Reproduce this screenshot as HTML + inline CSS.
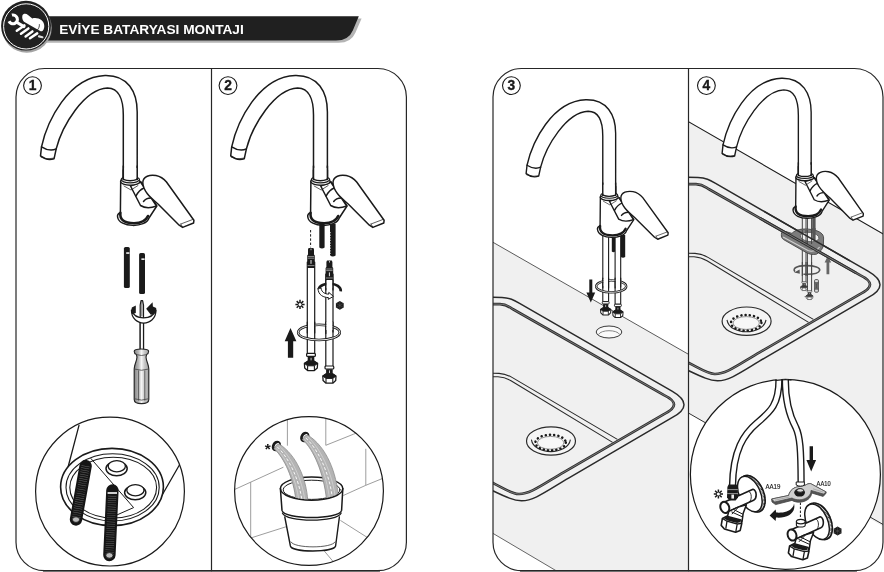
<!DOCTYPE html>
<html lang="tr">
<head>
<meta charset="utf-8">
<title>Eviye Bataryası Montajı</title>
<style>
html,body{margin:0;padding:0;background:#fff;}
body{width:884px;height:572px;overflow:hidden;font-family:"Liberation Sans",sans-serif;}
svg{display:block;filter:grayscale(1);}
.k{fill:none;stroke:#1a1a1a;stroke-width:1.2;stroke-linecap:round;stroke-linejoin:round;}
.kw{fill:#fff;stroke:#1a1a1a;stroke-width:1.2;stroke-linecap:round;stroke-linejoin:round;}
.f{fill:none;stroke:#1a1a1a;stroke-width:1.5;stroke-linecap:round;stroke-linejoin:round;}
.fw{fill:#fff;stroke:#1a1a1a;stroke-width:1.5;stroke-linecap:round;stroke-linejoin:round;}
.kt{fill:none;stroke:#1a1a1a;stroke-width:0.7;stroke-linecap:round;stroke-linejoin:round;}
.g{fill:none;stroke:#8a8a8a;stroke-width:0.8;stroke-linecap:round;stroke-linejoin:round;}
.num{font-family:"Liberation Sans",sans-serif;font-weight:bold;font-size:13.8px;fill:#1a1a1a;stroke:#1a1a1a;stroke-width:0.35px;text-anchor:middle;}
</style>
</head>
<body>
<svg width="884" height="572" viewBox="0 0 884 572">
<defs>
  <!-- faucet in panel-1 absolute coordinates -->
  <g id="faucet">
    <!-- spout -->
    <path class="fw" d="M41.5 146.8 C47 122 68 77 105 75.5 C128 75 137.2 92 137.2 112 V179 H123.3 V115 C123.3 100 119 88 107.5 88 C84 89 62 126 56.2 148.9 L54.1 158.7 Q47 161 40.5 155.9 Z"/>
    <path class="f" d="M41.5 146.8 Q49.6 152 56.2 148.9"/>
    <path class="kt" d="M41 157.2 Q47 160.2 53.6 158.2"/>
    <!-- body -->
    <path class="fw" d="M120.7 181 L120.4 212.8 Q117 214 117.6 217 C119 228 146 228 149 218 L156.8 206 L141 182 Z"/>
    <path class="f" d="M120.4 212.8 Q119 223 134 223.2 Q145 223 148 216" style="stroke-width:2.6"/>
    <!-- pivot cylinder -->
    <path class="fw" d="M130.5 186 L140.5 205.5 Q147 209.5 156.5 206 L146 190 L140.5 182 Z"/>
    <path class="f" d="M143.5 201.5 Q147 196.5 155 198.5 M136 196 Q139 190 144 188"/>
    <!-- collar -->
    <ellipse cx="130.3" cy="181.6" rx="9.7" ry="3.6" class="fw" style="stroke-width:1.5"/>
    <ellipse cx="130.3" cy="179.6" rx="9.2" ry="3.2" class="fw" style="stroke-width:1.2"/>
    <path class="fw" d="M123.3 170 V179.4 Q130 182 137.2 179.4 V170" />
    <path d="M123.3 168 H137.2 V178 H123.3 Z" fill="#fff" stroke="none"/>
    <path class="f" d="M123.3 166 V179.4 M137.2 166 V179.4"/>
    <path class="kt" d="M124 186 L131 190 L138 185.5"/>
    <!-- handle -->
    <path class="fw" d="M142.8 182.5 C143 176 150 174.5 156 175.5 C161 176.5 164 179 166.5 182 L193.9 220.3 L193.6 223 L182.6 227.4 L179.2 225.2 L158.5 204.5 C150 197 143 191 142.8 182.5 Z"/>
    <path class="kt" d="M180.8 224 L192.4 219.6 M180.8 224 L182.6 227.2"/>
  </g>
  <g id="hoseEnd">
    <rect x="-4.4" y="0" width="8.8" height="3" rx="1" fill="#fff" stroke="#1a1a1a" stroke-width="1.2"/>
    <rect x="-3.3" y="3.2" width="6.6" height="6.4" fill="#1a1a1a"/>
    <rect x="-0.4" y="4.4" width="0.9" height="3.6" fill="#ddd"/>
    <path d="M-6.6 10 L-3.2 7.8 H3.2 L6.6 10 L6.3 14.6 L3.4 17.2 H-3.4 L-6.3 14.6 Z" fill="#fff" stroke="#1a1a1a" stroke-width="1.3" stroke-linejoin="round"/>
    <path d="M-6.6 10 L-3.2 7.8 H3.2 L6.6 10 L3.4 12.4 H-3.4 Z" fill="#1a1a1a" stroke="#1a1a1a" stroke-width="1" stroke-linejoin="round"/>
    <path d="M-3.4 12.4 V17 M3.4 12.4 V17" stroke="#1a1a1a" stroke-width="1.1"/>
  </g>
  <g id="hoseTop">
    <!-- local origin: hose centre, y=0 at tip top -->
    <path d="M-2.4 0 H2.4 L3 1.5 V6.5 L3.8 7.5 V20 H-3.8 V7.5 L-3 6.5 V1.5 Z" fill="#1a1a1a"/>
    <path d="M-3.2 8.6 H3.2 M-3.2 10.2 H3.2 M-3.4 17.6 H3.4" stroke="#bbb" stroke-width="0.7"/>
    <rect x="-0.5" y="12" width="1" height="3.8" fill="#e8e8e8"/>
    <rect x="-0.4" y="0.6" width="0.8" height="1.6" fill="#ddd"/>
  </g>
  <g id="cold">
    <path d="M0 -4.6 V4.6 M-4.6 0 H4.6 M-3.3 -3.3 L3.3 3.3 M-3.3 3.3 L3.3 -3.3" stroke="#1a1a1a" stroke-width="1.5" fill="none"/>
    <circle r="1.5" fill="#fff"/>
  </g>
  <g id="hot">
    <path d="M0 -4.4 L3.9 -2.2 V2.2 L0 4.4 L-3.9 2.2 V-2.2 Z" fill="#1a1a1a"/>
    <path d="M0 -4.4 V4.4 M-3.9 -2.2 L3.9 2.2 M-3.9 2.2 L3.9 -2.2" stroke="#666" stroke-width="0.4"/>
  </g>
  <g id="valve">
    <!-- local origin = flange centre -->
    <g transform="rotate(-24)">
      <ellipse cx="1.6" cy="0.6" rx="11.4" ry="19.4" fill="#fff" stroke="#1a1a1a" stroke-width="1.6"/>
      <ellipse cx="1.6" cy="0.6" rx="10.6" ry="18.6" fill="none" stroke="#1a1a1a" stroke-width="2.6" stroke-dasharray="0.55 0.85"/>
      <ellipse cx="-0.6" cy="0" rx="10.6" ry="18.8" fill="#fff" stroke="#1a1a1a" stroke-width="1.5"/>
    </g>
    <!-- horizontal body -->
    <path d="M2.6 -4.6 C6.6 -3.2 6.8 4.6 3.2 6.4 L-23.6 18.6 C-29 19.6 -30.6 10.6 -26.4 8.4 Z" fill="#fff" stroke="#1a1a1a" stroke-width="1.6" stroke-linejoin="round"/>
    <path d="M-2 -2.6 C1.6 -1.4 1.8 6.4 -1.4 8.4" fill="none" stroke="#1a1a1a" stroke-width="0.9"/>
    <!-- lower outlet -->
    <path d="M-21.6 17.6 L-23.4 24.4 L-8.4 28 L-7.2 19.4 L-4 11 L-13 13.6 Z" fill="#fff" stroke="#1a1a1a" stroke-width="1.5" stroke-linejoin="round"/>
    <path d="M-17 15.6 L-7.6 20.4 M-19 18 L-8 23 M-12 13.4 L-18.6 20.4" fill="none" stroke="#1a1a1a" stroke-width="1"/>
    <!-- end cap -->
    <ellipse cx="-25.6" cy="13.6" rx="4.3" ry="5.7" transform="rotate(-20 -25.6 13.6)" fill="#fff" stroke="#1a1a1a" stroke-width="2"/>
    <!-- nut -->
    <path d="M-28 24.6 L-23.6 22.4 L-9.6 26.2 L-8.6 29.6 L-10.2 36.6 L-14.8 38.4 L-26 35.2 L-29.2 31.6 Z" fill="#fff" stroke="#1a1a1a" stroke-width="1.6" stroke-linejoin="round"/>
    <path d="M-28 24.6 L-23.4 27.4 L-13.2 30.2 L-8.6 29.6 M-23.4 27.4 L-24.6 34.8 M-13.2 30.2 L-14.6 38" fill="none" stroke="#1a1a1a" stroke-width="1.3"/>
    <path d="M-26.6 24.4 L-23.6 22.6 L-10.4 26.2 L-10 28.4 L-13.4 29.2 L-23 26.6 Z" fill="#1a1a1a"/>
  </g>
  <g id="sink" fill="none" stroke-linejoin="round">
    <path d="M680 177.1 L698 177.5 C706 177.8 710 180.2 715.6 183.4 L868 271.2 Q892 285 868 297.7 L765 357.9 C743 370.7 730 381 717.5 380.8 C708 380.6 699 375.4 680 366.6" stroke="#2a2a2a" stroke-width="1.5"/>
    <path d="M680 183.9 L696 184.2 C703 184.4 705 186.9 709.5 189.5 L860 275.1 Q880 284.6 860 294.1 L760 352.1 C738 364.9 726 374.4 714.5 374 C706 373.6 698 367 680 358.6" stroke="#2e2e2e" stroke-width="2.7"/>
    <path d="M680 183.9 L696 184.2 C703 184.4 705 186.9 709.5 189.5 L860 275.1 Q880 284.6 860 294.1 L760 352.1 C738 364.9 726 374.4 714.5 374 C706 373.6 698 367 680 358.6" stroke="#c4c4c4" stroke-width="0.5"/>
    <path d="M680 253.2 L695 253.4 Q702 253.8 708 257.4 L813.4 319.4" stroke="#2a2a2a" stroke-width="1.1"/>
    <path d="M680 256.6 L694 256.8 Q701 257.2 707 260.8 L808.6 322.4" stroke="#2a2a2a" stroke-width="1.1"/>
  </g>
  <g id="drain">
    <ellipse cx="746.6" cy="321.2" rx="24.5" ry="14.2" fill="#f5f5f6" stroke="#2a2a2a" stroke-width="1.2"/>
    <path d="M727 319.8 C729.4 335.8 763.4 335.8 766 319.8" fill="none" stroke="#2a2a2a" stroke-width="1.1"/>
    <ellipse cx="746.2" cy="322.8" rx="15.2" ry="7.8" fill="#f8f8f8" stroke="#1a1a1a" stroke-width="2.5" stroke-dasharray="0.1 4.1" stroke-linecap="round"/>
    <ellipse cx="746.2" cy="323" rx="13.2" ry="6.4" fill="none" stroke="#555" stroke-width="0.6"/>
  </g>
</defs>

<!-- ================= HEADER ================= -->
<g id="header">
  <path d="M29 18.6 H361.6 L355.4 32.8 Q351.2 42.8 338.6 42.8 H29 Z" fill="#b4b4b4"/>
  <path d="M26 16.2 H358.8 L352.8 30.4 Q348.6 40.4 336 40.4 H26 Z" fill="#221f1f"/>
  <circle cx="26.8" cy="27.8" r="24.9" fill="#a4a4a4"/>
  <circle cx="26" cy="25.7" r="24.9" fill="#221f1f"/>
  <circle cx="26.2" cy="26.4" r="22.6" fill="none" stroke="#fff" stroke-width="1"/>
  <g id="icon" fill="none" stroke="#fff" stroke-linecap="round">
    <path d="M11.9 15.1 A4.4 4.4 0 1 1 9 21.3" stroke-width="3.1" stroke-linecap="butt"/>
    <path d="M16.2 22 L24 26.6" stroke-width="3"/>
    <path d="M22.4 15.6 C23 13.4 26 13 28 15 L32.3 18.4 C35 17.6 39 18 41.6 20.2 C44.4 22.6 45 26.6 43.6 29.4 C42.8 31 41.6 31.6 40.6 31.2 L24 21.8 C22.6 20.6 21.8 17.6 22.4 15.6 Z" fill="#fff" stroke="none"/>
    <path d="M16.8 30.8 L24.4 25.4 M21 33.8 L28.4 28.4 M25.6 36.4 L32.4 31.4 M30 38.2 L37.2 33.4" stroke-width="2.5"/>
    <path d="M37.4 30 C38.8 28.4 39.6 26.4 39.4 24.6" stroke="#221f1f" stroke-width="0.8"/>
    <path d="M39 36.4 L42.4 37.2" stroke-width="2.2" stroke="#ddd"/>
  </g>
  <text x="59.2" y="34" font-family="'Liberation Sans',sans-serif" font-weight="bold" font-size="13.3" fill="#fff" textLength="184.6" lengthAdjust="spacingAndGlyphs">EVİYE BATARYASI MONTAJI</text>
</g>

<!-- ================= PANELS 3/4 background ================= -->
<clipPath id="clipR"><rect x="493" y="68.5" width="390" height="501.4" rx="28.5" ry="28.5"/></clipPath>
<clipPath id="clip3"><rect x="493" y="68.5" width="195.5" height="504"/></clipPath>
<clipPath id="clip4"><rect x="688.5" y="68.5" width="195.5" height="504"/></clipPath>

<g clip-path="url(#clipR)">
  <g id="p3bg" clip-path="url(#clip3)">
    <path d="M493 242.3 L689 354.6 V572 H557.8 L493 533.4 Z" fill="#f0f0f1"/>
    <path class="g" style="stroke:#4a4a4a;stroke-width:0.9" d="M493 242.3 L689 354.6"/>
    <path class="g" style="stroke:#555;stroke-width:0.9" d="M493 533.4 L560 573"/>
    <use href="#sink" transform="translate(-196 120)"/>
    <use href="#drain" transform="translate(-195.6 119.8)"/>
    <!-- hole 3 -->
    <ellipse cx="609" cy="332" rx="12.8" ry="6" fill="#fafafa" stroke="#3a3a3a" stroke-width="1"/>
    <path d="M598.4 334.6 C601 329.4 617 329.4 619.8 334.6" fill="none" stroke="#777" stroke-width="0.9"/>
  </g>
  <g id="p4bg" clip-path="url(#clip4)">
    <path d="M689 122 L884 234.4 V527 L689 413.4 Z" fill="#f0f0f1"/>
    <path class="g" style="stroke:#1a1a1a;stroke-width:1.1" d="M688 121.4 L884 234.4"/>
    <path class="g" style="stroke:#333;stroke-width:1" d="M688 412.8 L884 525"/>
    <use href="#sink"/>
    <use href="#drain"/>
  </g>
</g>

<!-- ================= PANEL FRAMES ================= -->
<path d="M43 571.5 H380 M520 571.5 H857" stroke="#8a8a8a" stroke-width="1" fill="none"/>
<rect x="16" y="68.5" width="390.4" height="502.2" rx="28.5" ry="28.5" class="k" style="stroke:#262626"/>
<path class="k" style="stroke:#262626" d="M211.5 68.5 V570.7"/>
<rect x="493" y="68.5" width="390" height="502.2" rx="28.5" ry="28.5" class="k" style="stroke:#262626"/>
<path class="k" style="stroke:#262626" d="M688.5 68.5 V570.7"/>

<!-- numbers -->
<g>
  <circle cx="32.5" cy="85.6" r="8.9" class="kw" style="stroke-width:1.1"/><text x="32.5" y="90" class="num">1</text>
  <circle cx="228" cy="85.6" r="8.9" class="kw" style="stroke-width:1.1"/><text x="228" y="90" class="num">2</text>
  <circle cx="511.4" cy="85.6" r="8.9" class="kw" style="stroke-width:1.1"/><text x="511.4" y="90" class="num">3</text>
  <circle cx="706.4" cy="85.6" r="8.9" class="kw" style="stroke-width:1.1"/><text x="706.4" y="90" class="num">4</text>
</g>

<!-- ================= PANEL 1 ================= -->
<g id="p1">
  <use href="#faucet"/>
  <!-- rods -->
  <g id="rods1">
    <rect x="123.9" y="247" width="5.9" height="41" rx="1.6" fill="#1a1a1a"/>
    <rect x="126.2" y="252.3" width="3.2" height="1.5" fill="#fff"/>
    <rect x="139.1" y="253" width="5.9" height="41" rx="1.6" fill="#1a1a1a"/>
    <rect x="141.4" y="258.4" width="3.2" height="1.5" fill="#fff"/>
  </g>
  <!-- rotating ring arrow + screwdriver -->
  <g id="driver">
    <path class="kw" d="M140.2 349 V318 M143.5 349 V318" />
    <path d="M140.2 318 H143.5 V349 H140.2 Z" fill="#fff" stroke="none"/>
    <path class="k" d="M140.2 349 V305 L141 300.6 L142.6 300.6 L143.5 305 V349" fill="#fff"/>
    <path class="kt" d="M141.9 301 V316"/>
    <path class="kw" d="M131.4 310 C131.4 327.4 156 327.4 156 310 C152 320.6 135 320.6 131.4 310 Z"/>
    <path d="M131.2 311.4 L131.8 307.4 L135.8 305.4 L135.8 313 L133 314 Z" fill="#1a1a1a"/>
    <path d="M146.2 308.8 L152.6 302.2 L152.9 306.4 L156.2 308 L156.2 311.6 L153.2 314.6 L150.8 314.8 Z" fill="#1a1a1a"/>
    <linearGradient id="hg" x1="0" x2="1" y1="0" y2="0">
      <stop offset="0" stop-color="#858585"/><stop offset="0.28" stop-color="#b4b4b4"/><stop offset="0.5" stop-color="#f4f4f4"/><stop offset="0.72" stop-color="#c4c4c4"/><stop offset="1" stop-color="#a2a2a2"/>
    </linearGradient>
    <path d="M134.2 351.2 Q134.2 349 141.5 349 Q148.6 349 148.6 351.2 Q148.6 353.6 146.6 354.6 L146 357 C146.4 362 148.8 364.5 148.8 369 V399.5 Q148.8 403.6 141.5 403.6 Q134.2 403.6 134.2 399.5 V369 C134.2 364.5 136.6 362 137 357 L136.4 354.6 Q134.2 353.6 134.2 351.2 Z" fill="url(#hg)" stroke="#262626" stroke-width="1.15"/>
    <path d="M136.4 354.6 Q141.5 356.4 146.6 354.6 M134.2 369 Q141.5 371.5 148.8 369 M134.6 398.8 Q141.5 401.4 148.4 398.8 M138.6 370.4 V400.6 M144.8 370.4 V400.6" fill="none" stroke="#444" stroke-width="0.8"/>
  </g>
  <!-- detail circle -->
  <g id="c1">
    <circle cx="110" cy="491.6" r="74.4" class="kw"/>
    <path class="k" style="stroke-width:1.3" d="M79 425.4 L68.2 466.5 M179.4 465 L161.6 496"/>
    <ellipse cx="112" cy="487" rx="51.4" ry="38.6" class="kw" style="stroke-width:1.6"/>
    <ellipse cx="112.6" cy="487.4" rx="46.6" ry="33.6" class="k" style="stroke-width:1.1"/>
    <ellipse cx="113.2" cy="487.6" rx="43.4" ry="30.4" class="k" style="stroke-width:1.1"/>
    <path class="k" style="stroke-width:1" d="M91 458.6 L133.6 507.6 L113.6 516.4"/>
    <ellipse cx="116.6" cy="468.6" rx="10.6" ry="7.2" class="kw" style="stroke-width:1.5"/>
    <ellipse cx="116.8" cy="466.2" rx="8.6" ry="5.6" class="kw" style="stroke-width:1.3"/>
    <ellipse cx="135.2" cy="492.6" rx="10.6" ry="7.2" class="kw" style="stroke-width:1.5"/>
    <ellipse cx="135.4" cy="490.2" rx="8.6" ry="5.6" class="kw" style="stroke-width:1.3"/>
    <path d="M85.6 466 L76 519.5" stroke="#151515" stroke-width="12.4" stroke-linecap="round" fill="none"/>
    <path d="M85.6 466 L76 519.5" stroke="#6a6a6a" stroke-width="8.4" stroke-dasharray="0.45 1.7" fill="none"/>
    <ellipse cx="76" cy="519.6" rx="3.6" ry="2.8" fill="#bbb" stroke="#151515" stroke-width="0.8"/>
    <path d="M112.4 490.5 L109.4 555" stroke="#151515" stroke-width="12.4" stroke-linecap="round" fill="none"/>
    <path d="M112.2 496 L109.4 555" stroke="#6a6a6a" stroke-width="8.4" stroke-dasharray="0.45 1.7" fill="none"/>
    <path d="M107.6 493 H117" stroke="#fff" stroke-width="1.6"/>
    <ellipse cx="109.4" cy="555.4" rx="3.6" ry="2.8" fill="#bbb" stroke="#151515" stroke-width="0.8"/>
  </g>
</g>

<!-- ================= PANEL 2 ================= -->
<g id="p2">
  <use href="#faucet" transform="translate(190.2 0)"/>
  <!-- rods below faucet -->
  <path d="M319.3 224 H324.6 V247.6 Q322 249.4 319.3 247.6 Z" fill="#1a1a1a"/>
  <path d="M330 224 H335.6 V255.6 Q332.8 257.6 330 255.6 Z" fill="#1a1a1a"/>
  <path d="M330 232 V256" stroke="#fff" stroke-width="1.1" stroke-dasharray="1.3 1.3" fill="none"/>
  <path d="M310.6 230 V247.4" stroke="#1a1a1a" stroke-width="1" stroke-dasharray="2.4 1.8" fill="none"/>
  <!-- hoses -->
  <rect x="307.3" y="262" width="7.4" height="92" class="kw"/>
  <rect x="325.8" y="274" width="7.2" height="93" class="kw"/>
  <use href="#hoseTop" transform="translate(311 248)"/>
  <use href="#hoseTop" transform="translate(329.4 260.4)"/>
  <use href="#hoseEnd" transform="translate(311 353.4)"/>
  <use href="#hoseEnd" transform="translate(329.4 366)"/>
  <!-- rotation arrow -->
  <path d="M340.8 291.4 C341.6 281.6 319.6 281.4 318.8 289.4" fill="none" stroke="#1a1a1a" stroke-width="2.6" stroke-linecap="butt"/>
  <rect x="326.4" y="280" width="6" height="8" fill="#fff"/>
  <path d="M325.8 280 V290 M333 280 V290" class="k"/>
  <path class="kw" d="M318 288.4 C318 295.6 324 297.4 328.4 297.6 L328.2 299.4 L333.4 296.4 L328.8 292.4 L328.6 294.2 C325.4 294 321.4 292.4 321.2 288.6 Z" style="stroke-width:1"/>
  <!-- o-ring -->
  <ellipse cx="319" cy="332.4" rx="20.8" ry="7.6" fill="none" stroke="#1a1a1a" stroke-width="2.6"/>
  <ellipse cx="319" cy="332.4" rx="20.8" ry="7.6" fill="none" stroke="#fff" stroke-width="0.9"/>
  <path d="M307.3 322 V333 M314.7 322 V333 M325.8 322 V333.6 M333 322 V332" class="k"/>
  <path d="M308 322 H314 V330 H308 Z M326.5 322 H332.3 V330 H326.5Z" fill="#fff"/>
  <!-- up arrow -->
  <path d="M290.5 328 L296.4 341.2 H293.2 V357.8 H287.9 V341.2 H284.7 Z" fill="#1a1a1a"/>
  <use href="#cold" transform="translate(300 304.4)"/>
  <use href="#hot" transform="translate(339.8 305.4)"/>
  <!-- bucket circle -->
  <g id="c2">
    <clipPath id="cc2"><circle cx="309" cy="491" r="74.4"/></clipPath>
    <circle cx="309" cy="491" r="74.4" fill="#fff"/>
    <g clip-path="url(#cc2)" fill="none" stroke="#929292" stroke-width="0.9">
      <path d="M230 491.6 L283.4 467.2 M287.4 410 V445.7 M250.7 482 V538 L287.8 526.2 M250.7 538 L232 531 M325.8 410 V445.3 L353.5 434.2 L392 418 M365.8 448.8 V485.3 L392 474.6 M365.8 485.3 L343.3 495.5 M340.4 520.4 L368 537.9 L390 551 M324.3 551 L333 561.4 M368 537.9 V560"/>
    </g>
    <!-- bucket back -->
    <path d="M280.4 488.6 L282 510 C284 519 339 519 341.6 510 L342.8 488.6" fill="#fff" stroke="none"/>
    <path d="M284.8 515 L290.4 546 C292 552.6 333.6 552.6 335.6 546 L339.6 515 Z" fill="#fff" stroke="none"/>
    <ellipse cx="311.6" cy="488.6" rx="31.2" ry="11.6" class="kw" style="stroke-width:1.5"/>
    <ellipse cx="311.6" cy="489.8" rx="28.4" ry="9.6" class="kw" style="stroke-width:1"/>
    <!-- holes -->
    <ellipse cx="276.4" cy="446" rx="3.4" ry="4.6" transform="rotate(30 276.4 446)" fill="#fff" stroke="#1a1a1a" stroke-width="1.9"/>
    <ellipse cx="304.8" cy="437" rx="3.4" ry="4.6" transform="rotate(30 304.8 437)" fill="#fff" stroke="#1a1a1a" stroke-width="1.9"/>
    <!-- water -->
    <clipPath id="bk"><path d="M230 400 H400 V489.8 H340 A28.4 9.6 0 0 1 283.2 489.8 H230 Z"/></clipPath>
    <g clip-path="url(#bk)">
      <path d="M274.8 449.4 C284 458 293.6 478 296 501 L307.8 501 C306.4 478 296 455 279.8 444.4 C277 443.6 274.4 446.6 274.8 449.4 Z" fill="#b4b4b4" stroke="#8a8a8a" stroke-width="0.8"/>
      <path d="M277.4 447 C288 457 299 478 302 501" fill="none" stroke="#fff" stroke-width="0.9" stroke-dasharray="3 2"/>
      <path d="M276 448.4 C286 458 296 478 299 501 M279 445.6 C290.4 456 302 478 305 501" fill="none" stroke="#d8d8d8" stroke-width="0.7"/>
      <path d="M303.2 440.4 C313 449 323.6 472 326.6 500 L338.6 500 C337 472 326 446.6 308.2 435.4 C305.4 434.6 302.8 437.6 303.2 440.4 Z" fill="#b4b4b4" stroke="#8a8a8a" stroke-width="0.8"/>
      <path d="M305.8 438 C317 448 329.6 472 332.6 500" fill="none" stroke="#fff" stroke-width="0.9" stroke-dasharray="3 2"/>
      <path d="M304.4 439.4 C315 449 326.6 472 329.6 500 M307.4 436.6 C319.4 447 332.6 472 335.6 500" fill="none" stroke="#d8d8d8" stroke-width="0.7"/>
    </g>
    <path d="M273.6 448.6 A3.4 4.6 30 0 1 278.6 442" fill="none" stroke="#1a1a1a" stroke-width="1.9"/>
    <path d="M302 439.6 A3.4 4.6 30 0 1 307 433" fill="none" stroke="#1a1a1a" stroke-width="1.9"/>
    <!-- bucket front -->
    <path class="k" d="M280.4 488.6 L282 510.4 C284 520 339.4 520 341.6 510.4 L342.8 488.6" style="stroke-width:1.5"/>
    <path class="k" d="M282.4 513 C286 522.6 337.4 522.6 341.2 513" style="stroke-width:1.2"/>
    <path class="k" d="M284.8 517 L290.4 546 C292 552.6 333.6 552.6 335.6 546 L339.4 517" style="stroke-width:1.4"/>
    <path class="kt" d="M291 542 C294 548.6 332 548.6 335 542"/>
    <text x="264.8" y="454.2" font-family="'Liberation Sans',sans-serif" font-weight="bold" font-size="15.5" fill="#1a1a1a">*</text>
    <circle cx="309" cy="491" r="74.4" class="k"/>
  </g>
</g>

<!-- ================= PANEL 3 ================= -->
<g id="p3">
  <!-- rods & hoses under faucet 3 -->
  <path d="M611.8 235 H615.2 V251.6 Q613.5 252.8 611.8 251.6 Z" fill="#1a1a1a"/>
  <path d="M620.8 235 H625.2 V257 Q623 258.4 620.8 257 Z" fill="#1a1a1a"/>
  <rect x="602.8" y="234" width="5.8" height="67.6" class="kw" style="stroke-width:1.1"/>
  <rect x="615.1" y="236" width="5.6" height="68.2" class="kw" style="stroke-width:1.1"/>
  <use href="#faucet" transform="translate(488.6 30.5) scale(0.926 0.918)"/>
  <use href="#hoseEnd" transform="translate(605.7 301.6) scale(0.78)"/>
  <use href="#hoseEnd" transform="translate(617.9 304.2) scale(0.78)"/>
  <ellipse cx="611.2" cy="286.4" rx="15" ry="6" fill="none" stroke="#1a1a1a" stroke-width="2.4"/>
  <ellipse cx="611.2" cy="286.4" rx="15" ry="6" fill="none" stroke="#fff" stroke-width="0.8"/>
  <path d="M603.4 279 H608 V286 H603.4 Z M615.7 279 H620.1 V286.4 H615.7Z" fill="#fff"/>
  <path d="M602.8 278 V288 M608.6 278 V288 M615.1 278 V288 M620.7 278 V287" class="k" style="stroke-width:1.1"/>
  <path d="M590.8 302.4 L586.4 292.4 H589.3 V279.4 H592.3 V292.4 H595.2 Z" fill="#1a1a1a"/>
</g>

<!-- ================= PANEL 4 ================= -->
<g id="p4">
  <!-- under-sink fixing (seen through) -->
  <g id="under4">
    <path d="M802.3 216 V282 M806 216 V282 M807.4 216 V291 M811.6 216 V291" fill="none" stroke="#444" stroke-width="1"/>
    <rect x="812.2" y="216" width="3.4" height="23" fill="#555"/>
    <!-- bracket -->
    <path d="M781.4 234.4 C781 232 783 231 786 231.6 L792 233.4 C795 229.6 803 228 812 229.6 C820 231 823.6 234 823.6 238 L823.4 244 C823.4 248 821 251.4 816.4 254.2 C812 255 809 254 806 252.4 L783.6 239.6 C781.8 238.4 781.2 236.6 781.4 234.4 Z" fill="#7c7c7c" stroke="#444" stroke-width="0.9"/>
    <path d="M783 237 L808 250.6 C812 252 817 251 819.6 247" fill="none" stroke="#d0d0d0" stroke-width="1.1"/>
    <ellipse cx="809.6" cy="237" rx="9.4" ry="4.6" fill="#f0f0f1" stroke="#555" stroke-width="0.8" transform="rotate(8 809.6 237)"/>
    <path d="M802.3 230 V244 M806 230 V244 M807.4 230 V244 M811.6 230 V244" fill="none" stroke="#444" stroke-width="1"/>
    <rect x="812.2" y="228" width="3.4" height="12" fill="#555"/>
    <!-- rotation arrow -->
    <path d="M795 271.6 C792 268.6 797 265.8 805 265.6 C815 265.4 820.6 267.6 819.6 270.6 C818.6 273.6 811 274.6 803.4 274.2" fill="none" stroke="#555" stroke-width="1.6"/>
    <path d="M794.2 272.6 L799.6 269.6 L799.8 273.8 Z" fill="#555"/>
    <path d="M802.3 262 V276 M806 262 V276 M807.4 262 V276 M811.6 262 V276" fill="none" stroke="#444" stroke-width="1"/>
    <!-- up arrow -->
    <path d="M827.9 255.8 L831.2 262.6 H829.3 V274.2 H826.5 V262.6 H824.6 Z" fill="#666"/>
    <!-- small nuts -->
    <use href="#hoseEnd" transform="translate(804.1 281.6) scale(0.52)" opacity="0.85"/>
    <use href="#hoseEnd" transform="translate(809.5 290.6) scale(0.52)" opacity="0.85"/>
    <rect x="814.6" y="279.6" width="3.8" height="12.6" rx="1" fill="#ddd" stroke="#444" stroke-width="0.9"/>
    <path d="M814.6 282.6 H818.4 M814.6 289.2 H818.4" stroke="#444" stroke-width="0.8" fill="none"/>
    <rect x="815.2" y="283.4" width="2.6" height="5" fill="#555"/>
  </g>
    <path d="M814.6 283.6 H818.6 M814.6 288.4 H818.6 M800 287.4 H808 M804.6 296.6 H813" stroke="#555" stroke-width="0.8" fill="none"/>
  </g>
  <!-- sink rim lines passing over the bracket -->
  <g fill="none">
    <path d="M760 218.23 L856 272.85" stroke="#2e2e2e" stroke-width="2.7"/>
    <path d="M760 218.23 L856 272.85" stroke="#c4c4c4" stroke-width="0.5"/>
    <path d="M764 211.28 L850 260.82" stroke="#2a2a2a" stroke-width="1.5"/>
  </g>
  <use href="#faucet" transform="translate(684.8 7.6) scale(0.921 0.935)"/>
  <!-- big detail circle -->
  <g id="c4">
    <circle cx="785.4" cy="474.4" r="95" class="kw"/>
    <!-- hoses -->
    <path d="M779 379.6 C779 405 770 412 757 423 C744 434 733 450 732.5 486" fill="none" stroke="#1a1a1a" stroke-width="7.3"/>
    <path d="M779 379 C779 405 770 412 757 423 C744 434 733 450 732.5 486.6" fill="none" stroke="#fff" stroke-width="4.5"/>
    <path d="M785.3 379.6 C785.3 400 789 415 795.8 427.4 C800 436 801 450 801.1 482" fill="none" stroke="#1a1a1a" stroke-width="7.3"/>
    <path d="M785.3 379 C785.3 400 789 415 795.8 427.4 C800 436 801 450 801.1 482.6" fill="none" stroke="#fff" stroke-width="4.5"/>
    <path d="M776 380.4 Q785 379.2 791 380" class="k"/>
    <!-- left valve -->
    <use href="#valve" transform="translate(750.4 493.8)"/>
    <path d="M728.6 484.4 L736.6 484.6 L737.6 487 L738 497.6 L735.6 500.6 L729.4 500.6 L727 497.6 L727.4 487 Z" fill="#1a1a1a"/>
    <path d="M727.4 489.6 H737.8 M727.2 493.6 H738" stroke="#ccc" stroke-width="0.7"/>
    <rect x="731.4" y="494.6" width="2.6" height="4" fill="#eee"/>
    <use href="#cold" transform="translate(718.4 494)"/>
    <!-- right valve -->
    <use href="#valve" transform="translate(817.6 521.4)"/>
    <path d="M796.4 521.6 V525.4 C797 527.6 804.6 527.6 805.2 525.4 V521.6" fill="#fff" stroke="#1a1a1a" stroke-width="1.1"/>
    <ellipse cx="800.8" cy="521.6" rx="4.4" ry="2.3" fill="#fff" stroke="#1a1a1a" stroke-width="1.2"/>
    <path d="M800.4 502.6 V518.6" stroke="#1a1a1a" stroke-width="1" stroke-dasharray="2.4 1.6" fill="none"/>
    <use href="#hot" transform="translate(837.6 531)"/>
    <!-- wrench -->
    <g stroke-linejoin="round">
      <path d="M771.6 499 L788.6 495.5 C790 490 794 487.2 799 486.6 L805 485.4 C807 484 809 483.4 810.6 483.6 L826.2 492 L825.6 494 L823 496.4 L811.6 493 C811.6 498 806 502 799.6 502.2 C796 502.2 793.6 501.4 792 500.4 L775.6 504.6 L772 502 Z" fill="#555" stroke="#444" stroke-width="0.8"/>
      <path d="M771.6 499 L788.6 495.5 C790 490 794 487.2 799 486.6 L805 485.4 C807 484 809 483.4 810.6 483.6 L826.2 492 L823.4 494 L811 490.4 C811.4 495.4 806 499.6 799.6 499.8 C796 499.8 793.6 499 792 498 L774.6 502 Z" fill="#cfcfcf" stroke="#444" stroke-width="0.7"/>
      <path d="M775 500.2 L789.6 497 M813 488.8 L823.4 492.2" fill="none" stroke="#999" stroke-width="0.7"/>
    </g>
    <ellipse cx="799.6" cy="492.6" rx="5.4" ry="4" fill="#1a1a1a"/>
    <ellipse cx="800.2" cy="490.4" rx="3.4" ry="1.8" fill="#ddd" stroke="#1a1a1a" stroke-width="0.9"/>
    <path d="M796.2 482 H804.4 V485 C802 486.6 798.6 486.6 796.2 485 Z" fill="#fff" stroke="#1a1a1a" stroke-width="1"/>
    <!-- arrows -->
    <path d="M811.2 471.6 L806.4 460 H809.6 V446.2 H813 V460 H816.1 Z" fill="#1a1a1a"/>
    <path d="M794 503.6 C793.6 509.6 785.6 513.4 776.2 512.6 L775.6 509.4 L769.6 515.6 L775.6 521 L776 517.6 C787 518.6 796.4 513 794 503.6 Z" fill="#1a1a1a"/>
    <text x="765.4" y="488.6" font-family="'Liberation Sans',sans-serif" font-size="6.3" fill="#1a1a1a" stroke="#1a1a1a" stroke-width="0.15" textLength="15" lengthAdjust="spacingAndGlyphs">AA19</text>
    <text x="816.6" y="485.9" font-family="'Liberation Sans',sans-serif" font-size="6.3" fill="#1a1a1a" stroke="#1a1a1a" stroke-width="0.15" textLength="14" lengthAdjust="spacingAndGlyphs">AA10</text>
  </g>
</g>

</svg>
</body>
</html>
